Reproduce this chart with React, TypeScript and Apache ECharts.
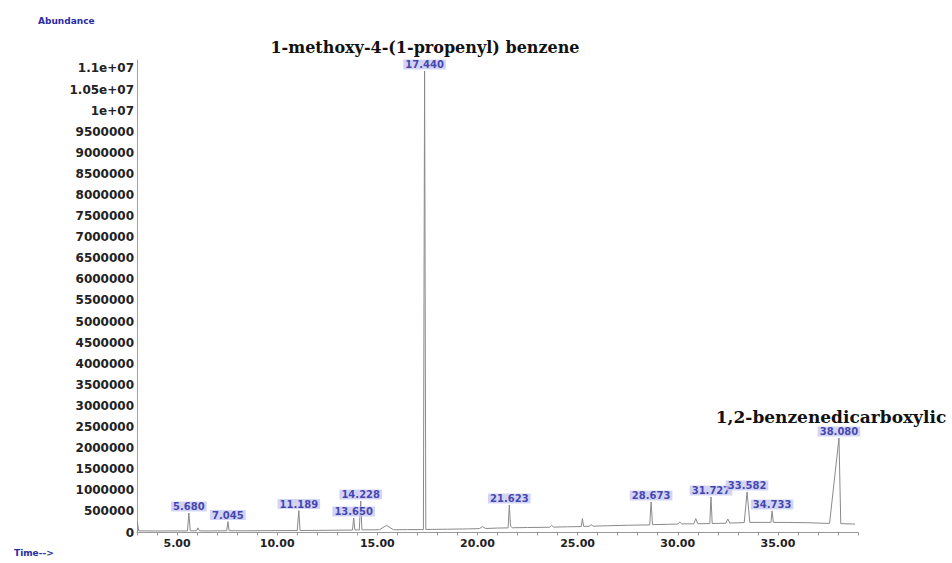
import React, { useEffect, useRef } from "react";
import * as echarts from "echarts";

// Total ion chromatogram trace: retention time (min) and abundance
const traceTime: number[] = [
  3.02, 3.08, 4.0, 4.8, 5.52, 5.59, 5.66, 5.98, 6.04, 6.12, 6.6, 7.0, 7.48, 7.54, 7.6,
  8.3, 9.0, 10.0, 11.0, 11.08, 11.14, 12.0, 13.0, 13.76, 13.82, 13.88, 14.1, 14.17, 14.23,
  15.1, 15.46, 15.8, 16.5, 17.3, 17.36, 17.42, 18.5, 19.5, 20.1, 20.25, 20.4, 21.0, 21.53,
  21.59, 21.65, 21.75, 22.5, 23.6, 23.7, 23.8, 24.5, 25.18, 25.24, 25.3, 25.6, 25.68, 25.76,
  26.5, 27.5, 28.6, 28.67, 28.74, 29.5, 30.0, 30.1, 30.2, 30.8, 30.9, 31.0, 31.6, 31.66,
  31.72, 32.4, 32.5, 32.6, 33.0, 33.32, 33.46, 33.6, 34.2, 34.65, 34.71, 34.77, 35.5, 36.5,
  37.2, 37.58, 38.05, 38.14, 38.5, 38.85,
];
const traceAbundance: number[] = [
  260000, 40000, 35000, 38000, 36000, 462000, 40000, 40000, 110000, 40000, 36000, 40000, 40000, 260000, 42000,
  40000, 42000, 45000, 47000, 520000, 48000, 50000, 55000, 58000, 344000, 60000, 60000, 747000, 62000,
  65000, 170000, 66000, 68000, 70000, 10940000, 72000, 78000, 85000, 92000, 140000, 95000, 105000, 110000,
  652000, 150000, 112000, 118000, 125000, 170000, 128000, 135000, 140000, 330000, 145000, 150000, 190000, 150000,
  160000, 172000, 180000, 723000, 185000, 195000, 200000, 250000, 203000, 206000, 330000, 208000, 212000, 842000,
  214000, 220000, 320000, 224000, 230000, 235000, 960000, 238000, 240000, 240000, 510000, 240000, 238000, 232000,
  220000, 215000, 2240000, 210000, 205000, 200000,
];

// Labelled peaks
const peakTime: number[] = [5.59, 7.54, 11.08, 13.82, 14.17, 17.36, 21.59, 28.67, 31.66, 33.46, 34.71, 38.05];
const peakAbundance: number[] = [462000, 260000, 520000, 344000, 747000, 10940000, 652000, 723000, 842000, 960000, 510000, 2240000];
const peakLabel: string[] = [
  "5.680", "7.045", "11.189", "13.650", "14.228", "17.440",
  "21.623", "28.673", "31.727", "33.582", "34.733", "38.080",
];

// Axis ticks
const yTickValues: number[] = [
  0, 500000, 1000000, 1500000, 2000000, 2500000, 3000000, 3500000, 4000000, 4500000, 5000000,
  5500000, 6000000, 6500000, 7000000, 7500000, 8000000, 8500000, 9000000, 9500000, 10000000,
  10500000, 11000000,
];
const xLabelValues: number[] = [5, 10, 15, 20, 25, 30, 35];

const compoundTop = "1-methoxy-4-(1-propenyl) benzene";
const compoundRight = "1,2-benzenedicarboxylic";

function fmtY(v: number): string {
  if (!yTickValues.includes(v)) return "";
  if (v >= 10000000) {
    const e = Math.floor(Math.log10(v));
    const m = +(v / Math.pow(10, e)).toFixed(2);
    return `${m}e+${String(e).padStart(2, "0")}`;
  }
  return String(v);
}

export default function App() {
  const ref = useRef<HTMLDivElement>(null);
  useEffect(() => {
    if (!ref.current) return;
    const chart = echarts.init(ref.current, undefined, { renderer: "svg" });
    const trace = traceTime.map((t, i) => [t, traceAbundance[i]]);
    const peaks = peakTime.map((t, i) => [t, peakAbundance[i]]);
    chart.setOption({
      animation: false,
      backgroundColor: "#ffffff",
      grid: { left: 137, right: 94, top: 60, bottom: 30.5 },
      xAxis: {
        type: "value",
        min: 3,
        max: 39,
        interval: 1,
        axisLine: { show: true, lineStyle: { color: "#9a9a9a", width: 1 } },
        axisTick: { show: true, length: 3, lineStyle: { color: "#9a9a9a" } },
        splitLine: { show: false },
        axisLabel: {
          margin: 5,
          color: "#222",
          fontSize: 11,
          fontWeight: "bold",
          fontFamily: "DejaVu Sans",
          formatter: (v: number) => (xLabelValues.includes(v) ? v.toFixed(2) : ""),
        },
      },
      yAxis: {
        type: "value",
        min: 0,
        max: 11200000,
        interval: 500000,
        axisLine: { show: true, lineStyle: { color: "#a0a0a0", width: 1 } },
        axisTick: { show: false },
        splitLine: { show: false },
        axisLabel: {
          margin: 3,
          color: "#222",
          fontSize: 12,
          fontWeight: "bold",
          fontFamily: "DejaVu Sans",
          formatter: fmtY,
        },
      },
      graphic: [
        {
          type: "text",
          left: 38,
          top: 16,
          style: { text: "Abundance", fill: "#2b2ba6", font: "bold 9px 'DejaVu Sans'" },
        },
        {
          type: "text",
          left: 14,
          top: 548,
          style: { text: "Time-->", fill: "#2b2ba6", font: "bold 9px 'DejaVu Sans'" },
        },
        {
          type: "text",
          x: 425,
          y: 47,
          style: {
            text: compoundTop,
            fill: "#111",
            font: "bold 16px 'DejaVu Serif'",
            textAlign: "center",
            textVerticalAlign: "middle",
          },
        },
        {
          type: "text",
          x: 831,
          y: 417,
          style: {
            text: compoundRight,
            fill: "#111",
            font: "bold 17px 'DejaVu Serif'",
            textAlign: "center",
            textVerticalAlign: "middle",
          },
        },
      ],
      series: [
        {
          type: "line",
          data: trace,
          symbol: "none",
          lineStyle: { color: "#8a8a8a", width: 1 },
          z: 2,
        },
        {
          type: "scatter",
          data: peaks,
          symbolSize: 1,
          itemStyle: { color: "rgba(0,0,0,0)" },
          z: 3,
          label: {
            show: true,
            position: "top",
            distance: 1,
            formatter: (p: any) => peakLabel[p.dataIndex],
            color: "#1d1d9e",
            fontSize: 10,
            fontWeight: "bold",
            fontFamily: "DejaVu Sans",
            backgroundColor: "#c7c9f2",
            padding: [0, 2, 0, 2],
          },
        },
      ],
    });
    return () => chart.dispose();
  }, []);
  return (
    <div
      ref={ref}
      style={{ position: "fixed", left: 0, top: 0, width: 952, height: 563, background: "#fff" }}
    />
  );
}
